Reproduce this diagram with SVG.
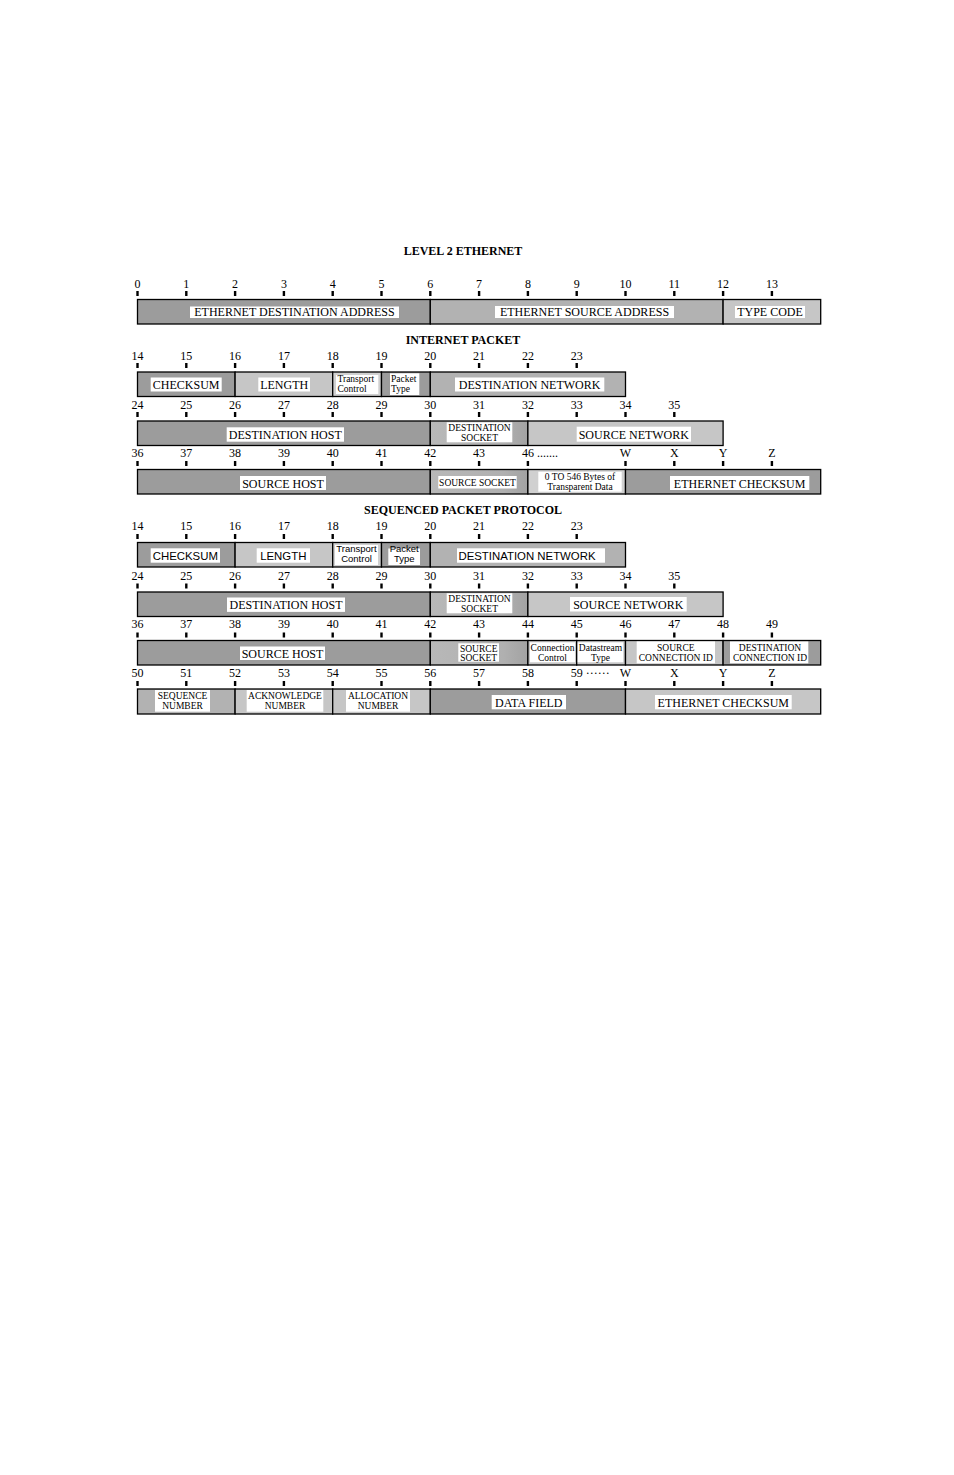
<svg xmlns="http://www.w3.org/2000/svg" width="954" height="1475" viewBox="0 0 954 1475">
<style>
.bx{stroke:#000;stroke-width:1.3}
.d{fill:#9c9c9c}.m{fill:#b2b2b2}.l{fill:#c6c6c6}.vl{fill:#d0d0d0}.g{fill:url(#sock)}
.w{fill:#fff}
.t{font-family:"Liberation Serif","Times New Roman",serif;font-size:12px;text-anchor:middle;fill:#000}
.s{font-family:"Liberation Serif","Times New Roman",serif;font-size:9.5px;text-anchor:middle;fill:#000}
.ls{font-family:"Liberation Sans",Arial,sans-serif;font-size:11.4px;text-anchor:middle;fill:#000}
.lss{font-family:"Liberation Sans",Arial,sans-serif;font-size:9.5px;text-anchor:middle;fill:#000}
.n{font-family:"Liberation Serif","Times New Roman",serif;font-size:12px;text-anchor:middle;fill:#000}
.h{font-family:"Liberation Serif","Times New Roman",serif;font-size:12px;font-weight:bold;text-anchor:middle;fill:#000}
.tk{fill:#000}
</style>
<defs>
<linearGradient id="sock" x1="0" y1="0" x2="1" y2="0">
<stop offset="0" stop-color="#b8b8b8"/><stop offset="0.75" stop-color="#b0b0b0"/><stop offset="1" stop-color="#a2a2a2"/>
</linearGradient>
</defs>
<rect width="954" height="1475" fill="#fff"/>

<!-- Titles -->
<text class="h" x="463" y="254.5">LEVEL 2 ETHERNET</text>
<text class="h" x="463" y="343.5">INTERNET PACKET</text>
<text class="h" x="463" y="513.5">SEQUENCED PACKET PROTOCOL</text>

<!-- Scale numbers -->
<g id="scale-numbers">
<text class="n" y="287.5"><tspan x="137.5">0</tspan><tspan x="186.3">1</tspan><tspan x="235.1">2</tspan><tspan x="283.9">3</tspan><tspan x="332.7">4</tspan><tspan x="381.5">5</tspan><tspan x="430.3">6</tspan><tspan x="479.1">7</tspan><tspan x="527.9">8</tspan><tspan x="576.7">9</tspan><tspan x="625.5">10</tspan><tspan x="674.3">11</tspan><tspan x="723.1">12</tspan><tspan x="771.9">13</tspan></text>
<text class="n" y="359.5"><tspan x="137.5">14</tspan><tspan x="186.3">15</tspan><tspan x="235.1">16</tspan><tspan x="283.9">17</tspan><tspan x="332.7">18</tspan><tspan x="381.5">19</tspan><tspan x="430.3">20</tspan><tspan x="479.1">21</tspan><tspan x="527.9">22</tspan><tspan x="576.7">23</tspan></text>
<text class="n" y="408.5"><tspan x="137.5">24</tspan><tspan x="186.3">25</tspan><tspan x="235.1">26</tspan><tspan x="283.9">27</tspan><tspan x="332.7">28</tspan><tspan x="381.5">29</tspan><tspan x="430.3">30</tspan><tspan x="479.1">31</tspan><tspan x="527.9">32</tspan><tspan x="576.7">33</tspan><tspan x="625.5">34</tspan><tspan x="674.3">35</tspan></text>
<text class="n" y="457"><tspan x="137.5">36</tspan><tspan x="186.3">37</tspan><tspan x="235.1">38</tspan><tspan x="283.9">39</tspan><tspan x="332.7">40</tspan><tspan x="381.5">41</tspan><tspan x="430.3">42</tspan><tspan x="479.1">43</tspan><tspan x="625.5">W</tspan><tspan x="674.3">X</tspan><tspan x="723.1">Y</tspan><tspan x="771.9">Z</tspan></text>
<text class="n" x="521.9" y="457" style="text-anchor:start">46 .......</text>
<text class="n" y="530"><tspan x="137.5">14</tspan><tspan x="186.3">15</tspan><tspan x="235.1">16</tspan><tspan x="283.9">17</tspan><tspan x="332.7">18</tspan><tspan x="381.5">19</tspan><tspan x="430.3">20</tspan><tspan x="479.1">21</tspan><tspan x="527.9">22</tspan><tspan x="576.7">23</tspan></text>
<text class="n" y="579.5"><tspan x="137.5">24</tspan><tspan x="186.3">25</tspan><tspan x="235.1">26</tspan><tspan x="283.9">27</tspan><tspan x="332.7">28</tspan><tspan x="381.5">29</tspan><tspan x="430.3">30</tspan><tspan x="479.1">31</tspan><tspan x="527.9">32</tspan><tspan x="576.7">33</tspan><tspan x="625.5">34</tspan><tspan x="674.3">35</tspan></text>
<text class="n" y="628.3"><tspan x="137.5">36</tspan><tspan x="186.3">37</tspan><tspan x="235.1">38</tspan><tspan x="283.9">39</tspan><tspan x="332.7">40</tspan><tspan x="381.5">41</tspan><tspan x="430.3">42</tspan><tspan x="479.1">43</tspan><tspan x="527.9">44</tspan><tspan x="576.7">45</tspan><tspan x="625.5">46</tspan><tspan x="674.3">47</tspan><tspan x="723.1">48</tspan><tspan x="771.9">49</tspan></text>
<text class="n" y="677"><tspan x="137.5">50</tspan><tspan x="186.3">51</tspan><tspan x="235.1">52</tspan><tspan x="283.9">53</tspan><tspan x="332.7">54</tspan><tspan x="381.5">55</tspan><tspan x="430.3">56</tspan><tspan x="479.1">57</tspan><tspan x="527.9">58</tspan><tspan x="625.5">W</tspan><tspan x="674.3">X</tspan><tspan x="723.1">Y</tspan><tspan x="771.9">Z</tspan></text>
<text class="n" x="570.7" y="677" style="text-anchor:start">59 ······</text>
</g>

<!-- Tick marks -->
<g id="ticks" class="tk">
<rect x="136.3" y="291" width="2.4" height="5"/><rect x="185.1" y="291" width="2.4" height="5"/><rect x="233.9" y="291" width="2.4" height="5"/><rect x="282.7" y="291" width="2.4" height="5"/><rect x="331.5" y="291" width="2.4" height="5"/><rect x="380.3" y="291" width="2.4" height="5"/><rect x="429.1" y="291" width="2.4" height="5"/><rect x="477.9" y="291" width="2.4" height="5"/><rect x="526.7" y="291" width="2.4" height="5"/><rect x="575.5" y="291" width="2.4" height="5"/><rect x="624.3" y="291" width="2.4" height="5"/><rect x="673.1" y="291" width="2.4" height="5"/><rect x="721.9" y="291" width="2.4" height="5"/><rect x="770.7" y="291" width="2.4" height="5"/>

<rect x="136.3" y="363" width="2.4" height="5"/><rect x="185.1" y="363" width="2.4" height="5"/><rect x="233.9" y="363" width="2.4" height="5"/><rect x="282.7" y="363" width="2.4" height="5"/><rect x="331.5" y="363" width="2.4" height="5"/><rect x="380.3" y="363" width="2.4" height="5"/><rect x="429.1" y="363" width="2.4" height="5"/><rect x="477.9" y="363" width="2.4" height="5"/><rect x="526.7" y="363" width="2.4" height="5"/><rect x="575.5" y="363" width="2.4" height="5"/>

<rect x="136.3" y="412" width="2.4" height="5"/><rect x="185.1" y="412" width="2.4" height="5"/><rect x="233.9" y="412" width="2.4" height="5"/><rect x="282.7" y="412" width="2.4" height="5"/><rect x="331.5" y="412" width="2.4" height="5"/><rect x="380.3" y="412" width="2.4" height="5"/><rect x="429.1" y="412" width="2.4" height="5"/><rect x="477.9" y="412" width="2.4" height="5"/><rect x="526.7" y="412" width="2.4" height="5"/><rect x="575.5" y="412" width="2.4" height="5"/><rect x="624.3" y="412" width="2.4" height="5"/><rect x="673.1" y="412" width="2.4" height="5"/>

<rect x="136.3" y="461" width="2.4" height="5"/><rect x="185.1" y="461" width="2.4" height="5"/><rect x="233.9" y="461" width="2.4" height="5"/><rect x="282.7" y="461" width="2.4" height="5"/><rect x="331.5" y="461" width="2.4" height="5"/><rect x="380.3" y="461" width="2.4" height="5"/><rect x="429.1" y="461" width="2.4" height="5"/><rect x="477.9" y="461" width="2.4" height="5"/><rect x="526.7" y="461" width="2.4" height="5"/><rect x="624.3" y="461" width="2.4" height="5"/><rect x="673.1" y="461" width="2.4" height="5"/><rect x="721.9" y="461" width="2.4" height="5"/><rect x="770.7" y="461" width="2.4" height="5"/>

<rect x="136.3" y="534" width="2.4" height="5"/><rect x="185.1" y="534" width="2.4" height="5"/><rect x="233.9" y="534" width="2.4" height="5"/><rect x="282.7" y="534" width="2.4" height="5"/><rect x="331.5" y="534" width="2.4" height="5"/><rect x="380.3" y="534" width="2.4" height="5"/><rect x="429.1" y="534" width="2.4" height="5"/><rect x="477.9" y="534" width="2.4" height="5"/><rect x="526.7" y="534" width="2.4" height="5"/><rect x="575.5" y="534" width="2.4" height="5"/>

<rect x="136.3" y="583.5" width="2.4" height="5"/><rect x="185.1" y="583.5" width="2.4" height="5"/><rect x="233.9" y="583.5" width="2.4" height="5"/><rect x="282.7" y="583.5" width="2.4" height="5"/><rect x="331.5" y="583.5" width="2.4" height="5"/><rect x="380.3" y="583.5" width="2.4" height="5"/><rect x="429.1" y="583.5" width="2.4" height="5"/><rect x="477.9" y="583.5" width="2.4" height="5"/><rect x="526.7" y="583.5" width="2.4" height="5"/><rect x="575.5" y="583.5" width="2.4" height="5"/><rect x="624.3" y="583.5" width="2.4" height="5"/><rect x="673.1" y="583.5" width="2.4" height="5"/>

<rect x="136.3" y="632.5" width="2.4" height="5"/><rect x="185.1" y="632.5" width="2.4" height="5"/><rect x="233.9" y="632.5" width="2.4" height="5"/><rect x="282.7" y="632.5" width="2.4" height="5"/><rect x="331.5" y="632.5" width="2.4" height="5"/><rect x="380.3" y="632.5" width="2.4" height="5"/><rect x="429.1" y="632.5" width="2.4" height="5"/><rect x="477.9" y="632.5" width="2.4" height="5"/><rect x="526.7" y="632.5" width="2.4" height="5"/><rect x="575.5" y="632.5" width="2.4" height="5"/><rect x="624.3" y="632.5" width="2.4" height="5"/><rect x="673.1" y="632.5" width="2.4" height="5"/><rect x="721.9" y="632.5" width="2.4" height="5"/><rect x="770.7" y="632.5" width="2.4" height="5"/>

<rect x="136.3" y="681" width="2.4" height="5"/><rect x="185.1" y="681" width="2.4" height="5"/><rect x="233.9" y="681" width="2.4" height="5"/><rect x="282.7" y="681" width="2.4" height="5"/><rect x="331.5" y="681" width="2.4" height="5"/><rect x="380.3" y="681" width="2.4" height="5"/><rect x="429.1" y="681" width="2.4" height="5"/><rect x="477.9" y="681" width="2.4" height="5"/><rect x="526.7" y="681" width="2.4" height="5"/><rect x="575.5" y="681" width="2.4" height="5"/><rect x="624.3" y="681" width="2.4" height="5"/><rect x="673.1" y="681" width="2.4" height="5"/><rect x="721.9" y="681" width="2.4" height="5"/><rect x="770.7" y="681" width="2.4" height="5"/>
</g>

<!-- LEVEL 2 ETHERNET -->
<g id="eth-dest-addr"><rect class="bx d" x="137.5" y="299.5" width="292.8" height="24.5"/><rect class="w" x="190" y="306.5" width="209" height="11.5"/><text class="t" x="294.5" y="316">ETHERNET DESTINATION ADDRESS</text></g>
<g id="eth-src-addr"><rect class="bx m" x="430.3" y="299.5" width="292.8" height="24.5"/><rect class="w" x="495" y="306" width="179" height="12"/><text class="t" x="584.5" y="316">ETHERNET SOURCE ADDRESS</text></g>
<g id="type-code"><rect class="bx l" x="723.1" y="299.5" width="97.6" height="24.5"/><rect class="w" x="735" y="306" width="70" height="12"/><text class="t" x="770" y="316">TYPE CODE</text></g>

<!-- INTERNET PACKET row 1 -->
<g id="ip-checksum"><rect class="bx d" x="137.5" y="372" width="97.6" height="24.5"/><rect class="w" x="150.7" y="377.5" width="71" height="14"/><text class="t" x="186.2" y="389">CHECKSUM</text></g>
<g id="ip-length"><rect class="bx l" x="235.1" y="372" width="97.6" height="24.5"/><rect class="w" x="258.3" y="377.5" width="51.7" height="14"/><text class="t" x="284.2" y="389">LENGTH</text></g>
<g id="ip-transport-control"><rect class="bx vl" x="332.7" y="372" width="48.8" height="24.5"/><rect class="w" x="336" y="375" width="42.3" height="19"/><text class="s" x="337.5" y="382" style="text-anchor:start">Transport</text><text class="s" x="337.5" y="392" style="text-anchor:start">Control</text></g>
<g id="ip-packet-type"><rect class="bx d" x="381.5" y="372" width="48.8" height="24.5"/><rect class="w" x="390" y="373.3" width="29.3" height="21.7"/><text class="s" x="391" y="381.5" style="text-anchor:start">Packet</text><text class="s" x="391" y="392" style="text-anchor:start">Type</text></g>
<g id="ip-dest-network"><rect class="bx m" x="430.3" y="372" width="195.2" height="24.5"/><rect class="w" x="455" y="377.5" width="149.3" height="14"/><text class="t" x="529.6" y="389">DESTINATION NETWORK</text></g>

<!-- INTERNET PACKET row 2 -->
<g id="ip-dest-host"><rect class="bx d" x="137.5" y="421" width="292.8" height="24.5"/><rect class="w" x="226.7" y="427.3" width="117.3" height="14.4"/><text class="t" x="285.3" y="439">DESTINATION HOST</text></g>
<g id="ip-dest-socket"><rect class="bx g" x="430.3" y="421" width="97.6" height="24.5"/><rect class="w" x="446.7" y="422.3" width="65.6" height="20"/><text class="s" x="479.5" y="431">DESTINATION</text><text class="s" x="479.5" y="441">SOCKET</text></g>
<g id="ip-source-network"><rect class="bx l" x="527.9" y="421" width="195.2" height="24.5"/><rect class="w" x="576.7" y="426.7" width="114.3" height="15"/><text class="t" x="633.8" y="439">SOURCE NETWORK</text></g>

<!-- INTERNET PACKET row 3 -->
<g id="ip-source-host"><rect class="bx d" x="137.5" y="469.5" width="292.8" height="24.5"/><rect class="w" x="240" y="476" width="86" height="14"/><text class="t" x="283" y="487.5">SOURCE HOST</text></g>
<g id="ip-source-socket"><rect class="bx g" x="430.3" y="469.5" width="97.6" height="24.5"/><rect class="w" x="438.3" y="476" width="78.4" height="12.5"/><text class="s" x="477.5" y="486">SOURCE SOCKET</text></g>
<g id="ip-data"><rect class="bx vl" x="527.9" y="469.5" width="97.6" height="24.5"/><rect class="w" x="538.3" y="471.7" width="83.4" height="20"/><text class="s" x="580" y="480">0 TO 546 Bytes of</text><text class="s" x="580" y="490">Transparent  Data</text></g>
<g id="ip-eth-checksum"><rect class="bx d" x="625.5" y="469.5" width="195.2" height="24.5"/><rect class="w" x="670" y="476" width="139.3" height="14"/><text class="t" x="739.6" y="487.5">ETHERNET CHECKSUM</text></g>

<!-- SPP row 1 -->
<g id="spp-checksum"><rect class="bx d" x="137.5" y="542.5" width="97.6" height="24.5"/><rect class="w" x="150.7" y="548.3" width="69.3" height="14.4"/><text class="ls" x="185.3" y="559.5">CHECKSUM</text></g>
<g id="spp-length"><rect class="bx l" x="235.1" y="542.5" width="97.6" height="24.5"/><rect class="w" x="256.7" y="548.3" width="53.3" height="14.4"/><text class="ls" x="283.3" y="559.5">LENGTH</text></g>
<g id="spp-transport-control"><rect class="bx vl" x="332.7" y="542.5" width="48.8" height="24.5"/><rect class="w" x="335" y="545" width="43" height="20"/><text class="lss" x="356.5" y="552">Transport</text><text class="lss" x="356.5" y="562">Control</text></g>
<g id="spp-packet-type"><rect class="bx d" x="381.5" y="542.5" width="48.8" height="24.5"/><rect class="w" x="388.3" y="548.5" width="31.7" height="16.5"/><text class="lss" x="404.2" y="552">Packet</text><text class="lss" x="404.2" y="562">Type</text></g>
<g id="spp-dest-network"><rect class="bx m" x="430.3" y="542.5" width="195.2" height="24.5"/><rect class="w" x="457" y="548.3" width="148" height="14.4"/><text class="ls" x="527" y="559.5">DESTINATION NETWORK</text></g>

<!-- SPP row 2 -->
<g id="spp-dest-host"><rect class="bx d" x="137.5" y="592" width="292.8" height="24.5"/><rect class="w" x="227" y="597.5" width="118" height="14.4"/><text class="t" x="286" y="609">DESTINATION HOST</text></g>
<g id="spp-dest-socket"><rect class="bx g" x="430.3" y="592" width="97.6" height="24.5"/><rect class="w" x="446.7" y="593.3" width="65.6" height="20"/><text class="s" x="479.5" y="602">DESTINATION</text><text class="s" x="479.5" y="611.5">SOCKET</text></g>
<g id="spp-source-network"><rect class="bx l" x="527.9" y="592" width="195.2" height="24.5"/><rect class="w" x="570" y="597" width="116.7" height="14.5"/><text class="t" x="628.3" y="609">SOURCE NETWORK</text></g>

<!-- SPP row 3 -->
<g id="spp-source-host"><rect class="bx d" x="137.5" y="640.5" width="292.8" height="24.5"/><rect class="w" x="240" y="646.5" width="85" height="13.5"/><text class="t" x="282.5" y="657.5">SOURCE HOST</text></g>
<g id="spp-source-socket"><rect class="bx g" x="430.3" y="640.5" width="97.6" height="24.5"/><rect class="w" x="458.3" y="643.3" width="40.7" height="18.4"/><text class="s" x="478.7" y="651.5">SOURCE</text><text class="s" x="478.7" y="661">SOCKET</text></g>
<g id="spp-connection-control"><rect class="bx l" x="527.9" y="640.5" width="48.8" height="24.5"/><rect class="w" x="530" y="642.3" width="45" height="20"/><text class="s" x="552.5" y="651">Connection</text><text class="s" x="552.5" y="661">Control</text></g>
<g id="spp-datastream-type"><rect class="bx l" x="576.7" y="640.5" width="48.8" height="24.5"/><rect class="w" x="577.7" y="642.3" width="45.6" height="20"/><text class="s" x="600.5" y="651">Datastream</text><text class="s" x="600.5" y="661">Type</text></g>
<g id="spp-source-conn-id"><rect class="bx l" x="625.5" y="640.5" width="97.6" height="24.5"/><rect class="w" x="636.7" y="641.5" width="78.3" height="21.8"/><text class="s" x="675.8" y="650.5">SOURCE</text><text class="s" x="675.8" y="660.5">CONNECTION ID</text></g>
<g id="spp-dest-conn-id"><rect class="bx d" x="723.1" y="640.5" width="97.6" height="24.5"/><rect class="w" x="730" y="641.5" width="78.3" height="21.8"/><text class="s" x="770" y="650.5">DESTINATION</text><text class="s" x="770" y="660.5">CONNECTION ID</text></g>

<!-- SPP row 4 -->
<g id="spp-sequence-number"><rect class="bx m" x="137.5" y="689" width="97.6" height="25"/><rect class="w" x="155" y="690" width="55" height="21.7"/><text class="s" x="182.5" y="698.5">SEQUENCE</text><text class="s" x="182.5" y="708.5">NUMBER</text></g>
<g id="spp-acknowledge-number"><rect class="bx l" x="235.1" y="689" width="97.6" height="25"/><rect class="w" x="246.7" y="690" width="76.6" height="21.7"/><text class="s" x="285" y="698.5">ACKNOWLEDGE</text><text class="s" x="285" y="708.5">NUMBER</text></g>
<g id="spp-allocation-number"><rect class="bx l" x="332.7" y="689" width="97.6" height="25"/><rect class="w" x="346" y="690" width="64" height="21.7"/><text class="s" x="378" y="698.5">ALLOCATION</text><text class="s" x="378" y="708.5">NUMBER</text></g>
<g id="spp-data-field"><rect class="bx d" x="430.3" y="689" width="195.2" height="25"/><rect class="w" x="491.7" y="695" width="74.3" height="14.3"/><text class="t" x="528.8" y="706.5">DATA FIELD</text></g>
<g id="spp-eth-checksum"><rect class="bx l" x="625.5" y="689" width="195.2" height="25"/><rect class="w" x="655" y="695" width="136.7" height="14.3"/><text class="t" x="723.3" y="706.5">ETHERNET CHECKSUM</text></g>

<g id="connectors"/>
</svg>
